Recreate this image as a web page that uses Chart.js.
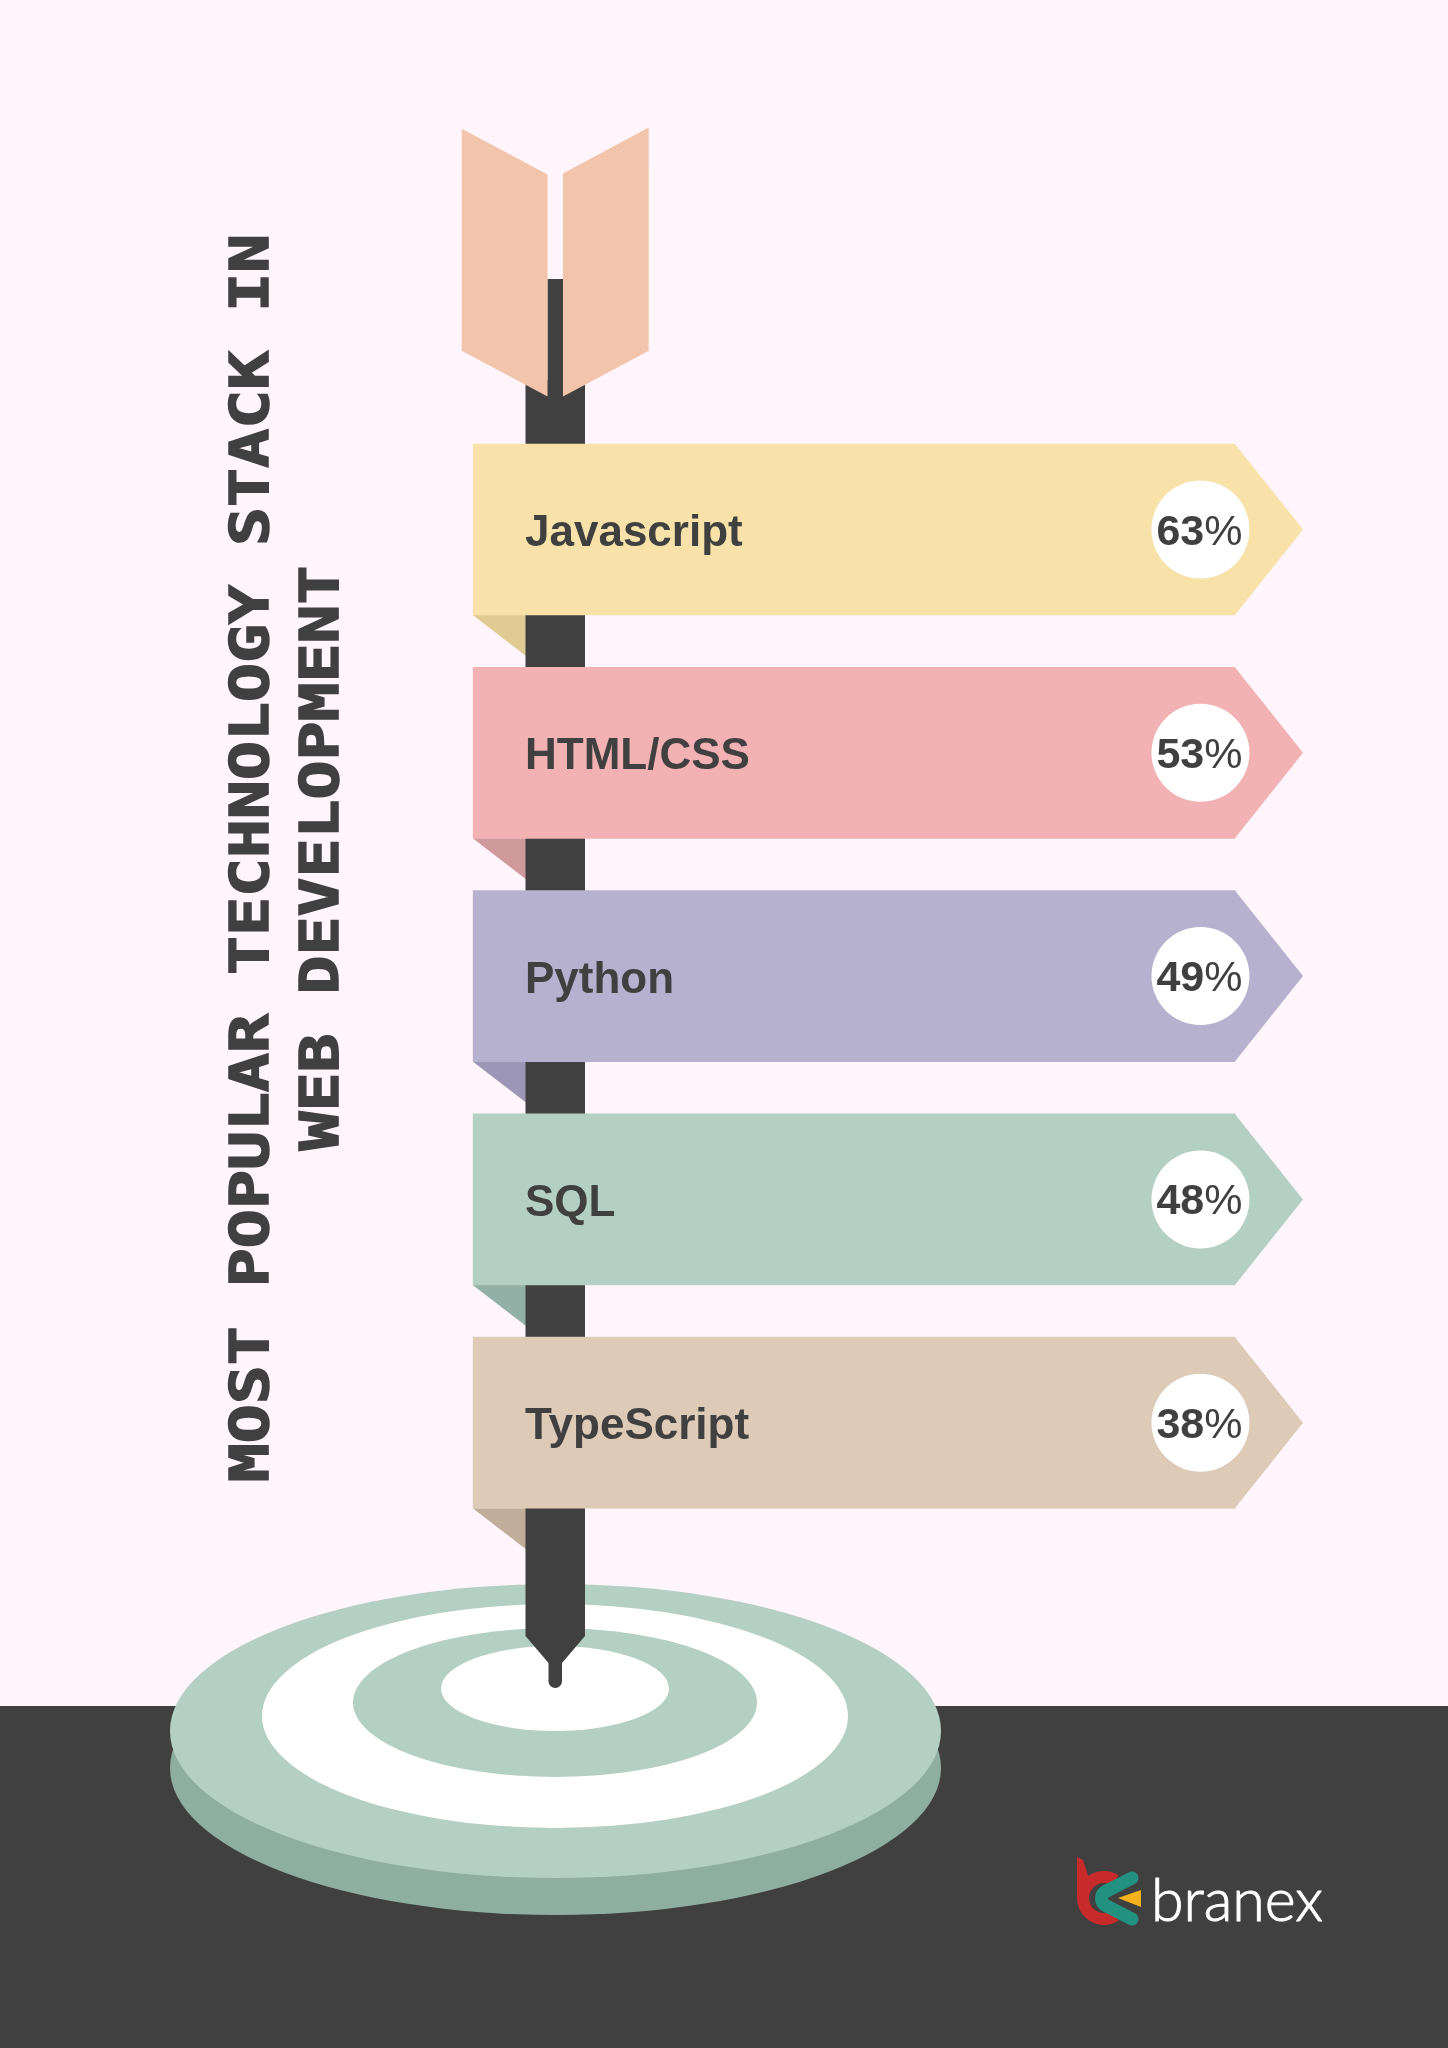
<!DOCTYPE html>
<html>
<head>
<meta charset="utf-8">
<title>Most popular technology stack in web development</title>
<script src="https://cdn.jsdelivr.net/npm/chart.js@4/dist/chart.umd.min.js"></script>
<style>
  html, body { margin: 0; padding: 0; background: #fff5fb; }
  canvas { display: block; }
</style>
</head>
<body>
<canvas id="stack-chart" width="1448" height="2048"></canvas>
<script>
const categories = ['Javascript', 'HTML/CSS', 'Python', 'SQL', 'TypeScript'];
const shares = [63, 53, 49, 48, 38];
const titleLines = ['MOST POPULAR TECHNOLOGY STACK IN', 'WEB DEVELOPMENT'];

const ribbonColors = ['#f9e2a9', '#f2b1b3', '#b5b1ce', '#b4cfc4', '#ddcab7'];
const foldColors = ['#e1cb94', '#d09a9c', '#9c97b6', '#92b0a5', '#c0ae9a'];

// every ribbon has the same length in the picture, the share only shows in the badge
const ribbonEnd = 91.8;
const badgeAt = 87.65;

const INK = '#404040';
const MINT = '#b4cfc4';

function poly(ctx, color, pts) {
    ctx.fillStyle = color;
    ctx.beginPath();
    pts.forEach((p, i) => i ? ctx.lineTo(p[0], p[1]) : ctx.moveTo(p[0], p[1]));
    ctx.closePath();
    ctx.fill();
}

function disc(ctx, color, cx, cy, rx, ry) {
    ctx.fillStyle = color;
    ctx.beginPath();
    ctx.ellipse(cx, cy, rx, ry, 0, 0, Math.PI * 2);
    ctx.fill();
}

function drawBackdrop(ctx) {
    ctx.fillStyle = '#fff5fb';
    ctx.fillRect(0, 0, 1448, 2048);
    ctx.fillStyle = INK;
    ctx.fillRect(0, 1706, 1448, 342);

    // target
    disc(ctx, '#8faea2', 555.5, 1768, 385.5, 147);
    disc(ctx, MINT, 555.5, 1731, 385.5, 147);
    disc(ctx, '#ffffff', 555, 1716, 293, 112);
    disc(ctx, MINT, 555, 1702.5, 202, 74.5);
    disc(ctx, '#ffffff', 555, 1688.5, 114, 42.5);
}

function drawArrow(ctx) {
    // shaft and tip
    poly(ctx, INK, [[525.5, 380], [585, 380], [585, 1636], [562, 1663], [548.5, 1663], [525.5, 1636]]);
    ctx.fillStyle = INK;
    ctx.beginPath();
    ctx.roundRect(548.5, 1655, 13.5, 33, 6.7);
    ctx.fill();
    ctx.fillRect(547.5, 279, 15.5, 110);

    // fletching
    poly(ctx, '#f2c4ab', [[461.7, 128.7], [547.5, 174.5], [547.5, 396.5], [461.7, 350.7]]);
    poly(ctx, '#f2c4ab', [[648.7, 127.5], [563, 173.5], [563, 396.5], [648.7, 350.7]]);
}

function drawTitle(ctx) {
    ctx.save();
    ctx.fillStyle = INK;
    ctx.strokeStyle = INK;
    ctx.lineWidth = 1.5;
    ctx.font = 'bold 54px "DejaVu Sans Mono"';
    ctx.textAlign = 'center';
    ctx.textBaseline = 'alphabetic';
    ctx.translate(268, 858);
    ctx.rotate(-Math.PI / 2);
    // the lettering in the picture is a wider mono than any installed one
    ctx.scale(1.2, 1);
    titleLines.forEach((line, i) => {
        ctx.fillText(line, 0, i * 70);
        ctx.strokeText(line, 0, i * 70);
    });
    ctx.restore();
}

function drawLogo(ctx) {
    // red b
    ctx.strokeStyle = '#c62a2a';
    ctx.lineWidth = 12;
    ctx.lineCap = 'butt';
    ctx.beginPath();
    ctx.arc(1104, 1898, 21, -1.0, 1.0, true);
    ctx.stroke();
    poly(ctx, '#c62a2a', [[1077, 1857], [1083, 1860], [1088, 1875], [1088, 1898], [1077, 1898]]);

    // teal chevron
    ctx.strokeStyle = '#23917f';
    ctx.lineWidth = 13;
    ctx.lineCap = 'round';
    ctx.lineJoin = 'round';
    ctx.beginPath();
    ctx.moveTo(1132, 1878);
    ctx.arcTo(1092, 1898.5, 1132, 1919, 8);
    ctx.lineTo(1132, 1919);
    ctx.stroke();

    poly(ctx, '#f5b21f', [[1118, 1898], [1141, 1890], [1141, 1907]]);

    ctx.fillStyle = '#ffffff';
    ctx.strokeStyle = '#ffffff';
    ctx.lineWidth = 1;
    ctx.font = '300 60px Lato';
    ctx.textAlign = 'left';
    ctx.textBaseline = 'alphabetic';
    ctx.fillText('branex', 1151, 1921, 172);
    ctx.strokeText('branex', 1151, 1921, 172);
}

const infographic = {
    id: 'infographic',
    beforeDatasetsDraw(chart) {
        const ctx = chart.ctx;
        const x = chart.scales.x;
        const bars = chart.getDatasetMeta(0).data;
        ctx.save();
        drawBackdrop(ctx);

        // folds sit behind the shaft
        bars.forEach((bar, i) => {
            const bottom = bar.y + bar.height / 2;
            poly(ctx, foldColors[i], [[bar.base, bottom], [526, bottom], [526, bottom + 41]]);
        });
        drawArrow(ctx);

        // arrow heads of the ribbons, tip is the end of the x scale
        bars.forEach((bar, i) => {
            const half = bar.height / 2;
            poly(ctx, ribbonColors[i], [
                [bar.x - 1, bar.y - half],
                [bar.x, bar.y - half],
                [x.getPixelForValue(100), bar.y],
                [bar.x, bar.y + half],
                [bar.x - 1, bar.y + half]
            ]);
        });
        drawTitle(ctx);
        drawLogo(ctx);
        ctx.restore();
    },
    afterDatasetsDraw(chart) {
        const ctx = chart.ctx;
        const x = chart.scales.x;
        const y = chart.scales.y;
        ctx.save();
        ctx.fillStyle = INK;
        ctx.textBaseline = 'alphabetic';
        ctx.textAlign = 'left';
        categories.forEach((name, i) => {
            const py = y.getPixelForValue(i);
            ctx.font = 'bold 44px "Liberation Sans"';
            ctx.fillText(name, 525, py + 16.5);

            // digits are bold, the percent sign is lighter
            const digits = String(shares[i]);
            ctx.font = 'bold 43px "Liberation Sans"';
            const digitsWidth = ctx.measureText(digits).width;
            ctx.font = '43px "Liberation Sans"';
            const signWidth = ctx.measureText('%').width;
            const left = x.getPixelForValue(badgeAt) - (digitsWidth + signWidth) / 2 - 1;
            ctx.fillText('%', left + digitsWidth, py + 15);
            ctx.font = 'bold 43px "Liberation Sans"';
            ctx.fillText(digits, left, py + 15);
        });
        ctx.restore();
    }
};

document.addEventListener('DOMContentLoaded', function() {
    new Chart(document.getElementById('stack-chart'), {
        data: {
            labels: categories,
            datasets: [{
                type: 'bar',
                indexAxis: 'y',
                data: categories.map(() => ribbonEnd),
                backgroundColor: ribbonColors,
                borderWidth: 0,
                barThickness: 171,
                order: 2
            }, {
                type: 'scatter',
                data: categories.map((name, i) => ({ x: badgeAt, y: name, share: shares[i] })),
                pointRadius: 49,
                pointHoverRadius: 49,
                pointBackgroundColor: '#ffffff',
                pointBorderWidth: 0,
                showLine: false,
                order: 1
            }]
        },
        options: {
            responsive: false,
            animation: false,
            devicePixelRatio: 1,
            indexAxis: 'y',
            layout: {
                padding: { left: 472.7, right: 145, top: 417.85, bottom: 513.65 }
            },
            plugins: {
                legend: { display: false },
                tooltip: { enabled: false }
            },
            scales: {
                x: { type: 'linear', min: 0, max: 100, display: false },
                y: { type: 'category', labels: categories, offset: true, display: false }
            }
        },
        plugins: [infographic]
    });
});
</script>
</body>
</html>
